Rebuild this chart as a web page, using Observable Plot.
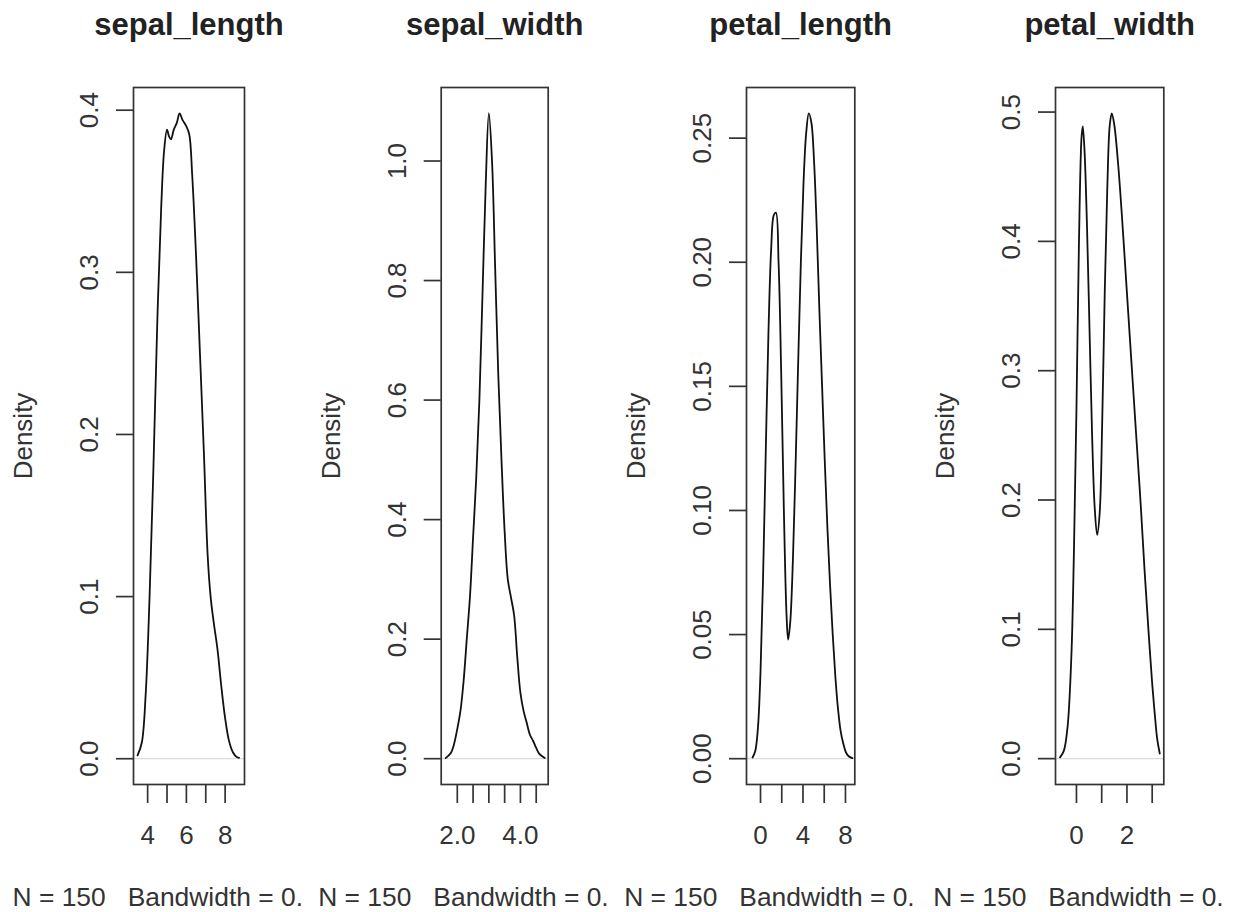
<!DOCTYPE html>
<html>
<head>
<meta charset="utf-8">
<script src="https://cdn.jsdelivr.net/npm/d3@7"></script>
<script src="https://cdn.jsdelivr.net/npm/@observablehq/plot@0.6"></script>
<style>
html, body { margin: 0; padding: 0; background: #fff; }
#chart { position: relative; width: 1233px; height: 912px; overflow: hidden; background: #fff; }
#chart .panel { position: absolute; top: 0; }
#chart svg { overflow: hidden !important; }
</style>
</head>
<body>
<div id="chart"></div>
<script>
// ---- data ----
const titles = ["sepal_length", "sepal_width", "petal_length", "petal_width"];
// the reference shows each subtitle cut off at its panel's edge
const subtitles = [
  "N = 150   Bandwidth = 0.",
  "N = 150   Bandwidth = 0.",
  "N = 150   Bandwidth = 0.",
  "N = 150   Bandwidth = 0."
];

const sepalLengthX = [3.48, 3.7, 3.9, 4.1, 4.3, 4.5, 4.7, 4.85, 5.0, 5.1, 5.2, 5.35, 5.5, 5.65, 5.8, 6.0, 6.15, 6.3, 6.5, 6.7, 6.9, 7.1, 7.25, 7.4, 7.6, 7.8, 8.0, 8.2, 8.4, 8.6, 8.72];
const sepalLengthY = [0.002, 0.01, 0.04, 0.1, 0.18, 0.27, 0.34, 0.375, 0.388, 0.384, 0.382, 0.388, 0.392, 0.398, 0.394, 0.39, 0.385, 0.36, 0.31, 0.25, 0.19, 0.125, 0.1, 0.085, 0.068, 0.045, 0.025, 0.011, 0.004, 0.001, 0.0005];

const sepalWidthX = [1.63, 1.8, 1.9, 2.0, 2.1, 2.2, 2.3, 2.4, 2.5, 2.6, 2.7, 2.8, 2.9, 3.0, 3.1, 3.2, 3.3, 3.4, 3.5, 3.6, 3.7, 3.8, 3.9, 4.0, 4.1, 4.2, 4.3, 4.4, 4.5, 4.6, 4.77];
const sepalWidthY = [0.001, 0.01, 0.025, 0.05, 0.08, 0.13, 0.2, 0.27, 0.37, 0.47, 0.6, 0.78, 0.96, 1.08, 1.0, 0.82, 0.64, 0.5, 0.38, 0.3, 0.27, 0.24, 0.17, 0.11, 0.08, 0.06, 0.04, 0.03, 0.018, 0.008, 0.001];

const petalLengthX = [-0.75, -0.5, -0.25, 0.0, 0.25, 0.5, 0.75, 1.0, 1.25, 1.45, 1.7, 1.95, 2.2, 2.45, 2.6, 2.8, 3.05, 3.3, 3.55, 3.8, 4.05, 4.3, 4.55, 4.8, 5.05, 5.3, 5.55, 5.8, 6.05, 6.3, 6.55, 6.8, 7.05, 7.3, 7.55, 7.8, 8.05, 8.3, 8.65];
const petalLengthY = [0.0005, 0.003, 0.012, 0.035, 0.075, 0.125, 0.172, 0.205, 0.219, 0.22, 0.2, 0.155, 0.1, 0.058, 0.048, 0.055, 0.08, 0.118, 0.16, 0.2, 0.232, 0.252, 0.26, 0.256, 0.24, 0.213, 0.18, 0.15, 0.12, 0.093, 0.07, 0.05, 0.033, 0.02, 0.011, 0.006, 0.0025, 0.001, 0.0002];

const petalWidthX = [-0.65, -0.5, -0.35, -0.2, -0.1, 0.0, 0.1, 0.2, 0.25, 0.32, 0.42, 0.52, 0.62, 0.72, 0.82, 0.92, 1.02, 1.12, 1.22, 1.32, 1.4, 1.5, 1.65, 1.8, 2.0, 2.2, 2.4, 2.55, 2.7, 2.85, 3.0, 3.1, 3.2, 3.3];
const petalWidthY = [0.001, 0.006, 0.025, 0.08, 0.16, 0.27, 0.4, 0.48, 0.489, 0.47, 0.41, 0.33, 0.25, 0.195, 0.173, 0.19, 0.26, 0.36, 0.44, 0.49, 0.499, 0.49, 0.46, 0.42, 0.36, 0.3, 0.24, 0.195, 0.145, 0.1, 0.058, 0.035, 0.015, 0.004];

const xTicks = [[4, 5, 6, 7, 8], [2.0, 2.5, 3.0, 3.5, 4.0, 4.5], [0, 2, 4, 6, 8], [0, 1, 2, 3]];
const xTickLabels = [[4, 6, 8], [2.0, 4.0], [0, 4, 8], [0, 2]];
const xTickFormats = ["d", ".1f", "d", "d"];
const yTicks = [[0, 0.1, 0.2, 0.3, 0.4], [0, 0.2, 0.4, 0.6, 0.8, 1.0], [0, 0.05, 0.1, 0.15, 0.2, 0.25], [0, 0.1, 0.2, 0.3, 0.4, 0.5]];
const yTickFormats = [".1f", ".1f", ".2f", ".1f"];

// ---- layout (figure regions and plot regions, px) ----
const series = [
  [sepalLengthX, sepalLengthY],
  [sepalWidthX, sepalWidthY],
  [petalLengthX, petalLengthY],
  [petalWidthX, petalWidthY]
];
const xDomains = [[3.27, 9.0], [1.49, 4.88], [-1.32, 8.88], [-0.83, 3.46]];
const yDomains = [[-0.0159, 0.414], [-0.0432, 1.123], [-0.0104, 0.2704], [-0.02, 0.519]];
const panelLefts = [0, 308, 617, 925];
const boxLefts = [133, 440.7, 746, 1055];
const boxRights = [244, 547.7, 854.3, 1163.3];
const panelWidth = 308;
const FONT = "'Liberation Sans', Arial, Helvetica, sans-serif";

const chart = document.getElementById("chart");

titles.forEach((title, i) => {
  const [xs, ys] = series[i];
  const pts = xs.map((x, k) => ({x, y: ys[k]}));
  const xf = d3.format(xTickFormats[i]);
  const yf = d3.format(yTickFormats[i]);
  const labelled = new Set(xTickLabels[i]);

  const svg = Plot.plot({
    width: panelWidth,
    height: 912,
    marginTop: 87,
    marginBottom: 128,
    marginLeft: boxLefts[i] - panelLefts[i],
    marginRight: panelLefts[i] + panelWidth - boxRights[i],
    style: {fontFamily: FONT, fontSize: "26px", color: "#333", background: "#fff", overflow: "hidden"},
    x: {domain: xDomains[i]},
    y: {domain: yDomains[i]},
    marks: [
      Plot.ruleY([0], {stroke: "#dcdcdc", strokeWidth: 1.2}),
      Plot.line(pts, {x: "x", y: "y", stroke: "#111", strokeWidth: 1.8, curve: "catmull-rom"}),
      Plot.frame({stroke: "#333", strokeWidth: 1.7}),
      Plot.axisX({
        ticks: xTicks[i], tickSize: 19, tickPadding: 22, strokeWidth: 1.7,
        tickFormat: d => labelled.has(d) ? xf(d) : "",
        fontSize: 26, label: null
      }),
      Plot.axisY({ticks: yTicks[i], tickSize: 17, strokeWidth: 1.7, tickFormat: () => "", label: null}),
      Plot.text(yTicks[i], {
        y: d => d, text: d => yf(d), frameAnchor: "left", dx: -44,
        rotate: -90, textAnchor: "middle", lineAnchor: "middle", fontSize: 26, fill: "#333"
      }),
      Plot.text(["Density"], {
        frameAnchor: "left", dx: -110, rotate: -90,
        textAnchor: "middle", lineAnchor: "middle", fontSize: 26, fill: "#333"
      }),
      Plot.text([title], {
        frameAnchor: "top", dy: -62, lineAnchor: "middle",
        fontSize: 31, fontWeight: "bold", fill: "#222"
      }),
      Plot.text([subtitles[i]], {
        frameAnchor: "bottom", dy: 113, dx: -176.5, textAnchor: "start", lineAnchor: "middle",
        fontSize: 26.4, fill: "#333"
      })
    ]
  });
  const wrap = document.createElement("div");
  wrap.className = "panel";
  wrap.style.left = panelLefts[i] + "px";
  wrap.style.width = panelWidth + "px";
  wrap.style.overflow = "hidden";
  wrap.appendChild(svg);
  chart.appendChild(wrap);
});
</script>
</body>
</html>
